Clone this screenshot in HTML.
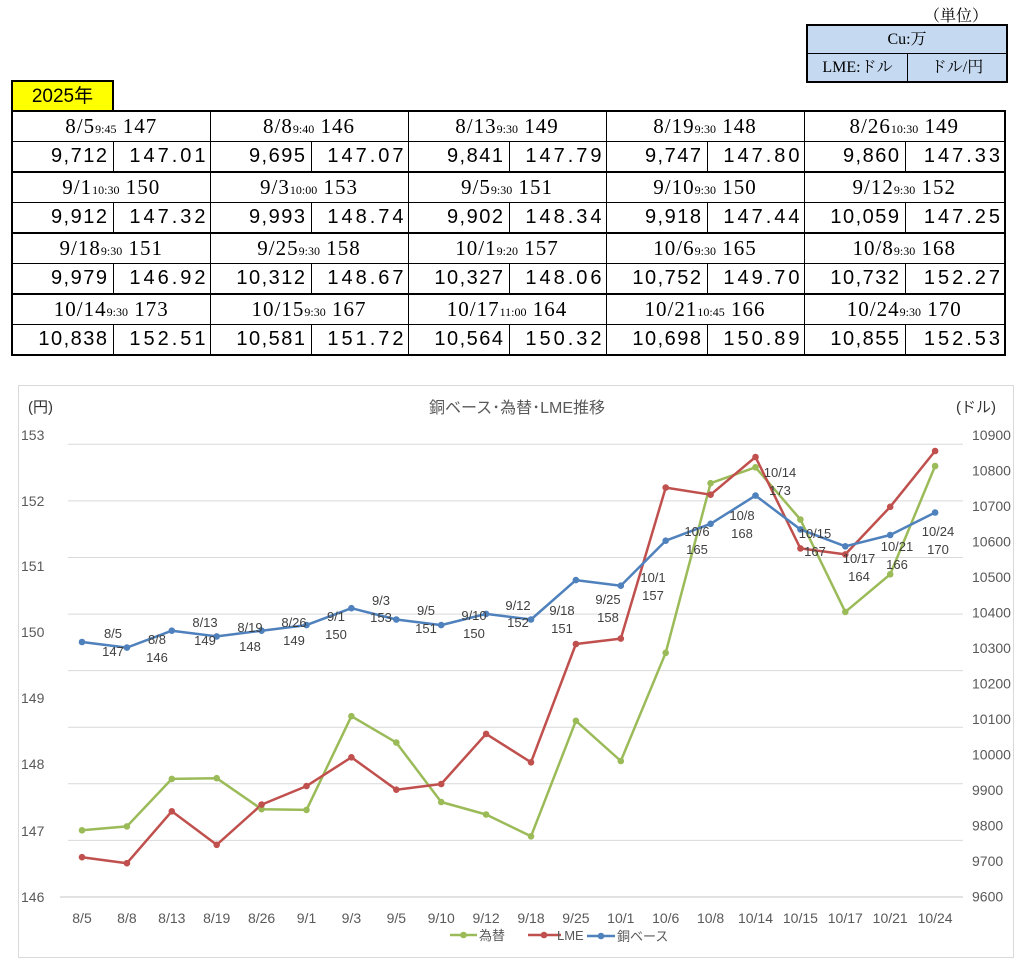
<!DOCTYPE html>
<html><head><meta charset="utf-8">
<style>
body{margin:0;background:#fff;width:1036px;height:974px;position:relative;overflow:hidden;font-family:"Liberation Sans","Noto Sans CJK JP",sans-serif}
.a{position:absolute}
table.m{position:absolute;left:11px;top:110px;border-collapse:collapse;width:993px;table-layout:fixed}
table.m td{border:1px solid #000;height:29px;padding:0;text-align:center;white-space:nowrap;overflow:hidden}
table.m tr.g td{border-top:2px solid #000}
table.m td.h{font-family:"Liberation Serif","Noto Serif CJK SC",serif;font-size:21px;letter-spacing:1px}
table.m td.h small{font-size:12px;letter-spacing:0}
table.m td.n{font-size:20px;letter-spacing:1.5px;text-align:right;padding-right:4px}
table.m td.r{font-size:20px;letter-spacing:3px;text-align:right;padding-right:1px}
</style></head><body>
<div class="a" style="left:924px;top:3px;font-size:16px;font-family:'Liberation Serif','Noto Serif CJK SC',serif">（単位）</div>
<div class="a" style="left:806px;top:24px;width:198px;height:55px;border:2px solid #000;background:#c5d9f1;font-family:'Liberation Serif','Noto Serif CJK SC',serif;font-size:16px">
<div style="height:27px;line-height:27px;text-align:center;border-bottom:1px solid #000">Cu:万</div>
<div style="display:flex;height:27px;line-height:27px"><div style="width:99px;text-align:center;border-right:1px solid #000">LME:ドル</div><div style="flex:1;text-align:center">ドル/円</div></div>
</div>
<div class="a" style="left:11px;top:80px;width:99px;height:28px;border:2px solid #000;border-bottom:none;background:#ff0;font-size:19px;line-height:30px;text-align:center">2025年</div>
<table class="m" style="border:2px solid #000">
<colgroup><col style="width:101px"><col style="width:97px"><col style="width:101px"><col style="width:97px"><col style="width:101px"><col style="width:97px"><col style="width:101px"><col style="width:97px"><col style="width:101px"><col style="width:100px"></colgroup>
<tr><td class="h" colspan="2">8/5<small>9:45</small> 147</td><td class="h" colspan="2">8/8<small>9:40</small> 146</td><td class="h" colspan="2">8/13<small>9:30</small> 149</td><td class="h" colspan="2">8/19<small>9:30</small> 148</td><td class="h" colspan="2">8/26<small>10:30</small> 149</td></tr>
<tr><td class="n">9,712</td><td class="r">147.01</td><td class="n">9,695</td><td class="r">147.07</td><td class="n">9,841</td><td class="r">147.79</td><td class="n">9,747</td><td class="r">147.80</td><td class="n">9,860</td><td class="r">147.33</td></tr>
<tr class="g"><td class="h" colspan="2">9/1<small>10:30</small> 150</td><td class="h" colspan="2">9/3<small>10:00</small> 153</td><td class="h" colspan="2">9/5<small>9:30</small> 151</td><td class="h" colspan="2">9/10<small>9:30</small> 150</td><td class="h" colspan="2">9/12<small>9:30</small> 152</td></tr>
<tr><td class="n">9,912</td><td class="r">147.32</td><td class="n">9,993</td><td class="r">148.74</td><td class="n">9,902</td><td class="r">148.34</td><td class="n">9,918</td><td class="r">147.44</td><td class="n">10,059</td><td class="r">147.25</td></tr>
<tr class="g"><td class="h" colspan="2">9/18<small>9:30</small> 151</td><td class="h" colspan="2">9/25<small>9:30</small> 158</td><td class="h" colspan="2">10/1<small>9:20</small> 157</td><td class="h" colspan="2">10/6<small>9:30</small> 165</td><td class="h" colspan="2">10/8<small>9:30</small> 168</td></tr>
<tr><td class="n">9,979</td><td class="r">146.92</td><td class="n">10,312</td><td class="r">148.67</td><td class="n">10,327</td><td class="r">148.06</td><td class="n">10,752</td><td class="r">149.70</td><td class="n">10,732</td><td class="r">152.27</td></tr>
<tr class="g"><td class="h" colspan="2">10/14<small>9:30</small> 173</td><td class="h" colspan="2">10/15<small>9:30</small> 167</td><td class="h" colspan="2">10/17<small>11:00</small> 164</td><td class="h" colspan="2">10/21<small>10:45</small> 166</td><td class="h" colspan="2">10/24<small>9:30</small> 170</td></tr>
<tr><td class="n">10,838</td><td class="r">152.51</td><td class="n">10,581</td><td class="r">151.72</td><td class="n">10,564</td><td class="r">150.32</td><td class="n">10,698</td><td class="r">150.89</td><td class="n">10,855</td><td class="r">152.53</td></tr>
</table>

<svg class="a" style="left:0;top:0" width="1036" height="974" font-family="Liberation Sans, Noto Sans CJK JP, sans-serif">
<rect x="18.5" y="385.5" width="995" height="572" fill="none" stroke="#d9d9d9"/>
<g stroke="#d9d9d9" stroke-width="1">
<line x1="68" x2="963" y1="444.3" y2="444.3"/><line x1="68" x2="963" y1="500.9" y2="500.9"/><line x1="68" x2="963" y1="557.5" y2="557.5"/><line x1="68" x2="963" y1="614.1" y2="614.1"/><line x1="68" x2="963" y1="670.6" y2="670.6"/><line x1="68" x2="963" y1="727.2" y2="727.2"/><line x1="68" x2="963" y1="783.8" y2="783.8"/><line x1="68" x2="963" y1="840.4" y2="840.4"/><line x1="60" x2="963" y1="897" y2="897" stroke-width="1.5"/>
</g>
<text x="517" y="413" text-anchor="middle" font-size="16" fill="#595959">銅ベース･為替･LME推移</text>
<text x="28" y="412" font-size="15" fill="#333">(円)</text>
<text x="956" y="412" font-size="15" fill="#333">(ドル)</text>
<g font-size="14" fill="#595959">
<text x="21" y="440">153</text><text x="21" y="506">152</text><text x="21" y="571">151</text><text x="21" y="637">150</text><text x="21" y="703">149</text><text x="21" y="769">148</text><text x="21" y="836">147</text><text x="21" y="902">146</text>
<text x="972" y="440">10900</text><text x="972" y="475.5">10800</text><text x="972" y="511">10700</text><text x="972" y="546.5">10600</text><text x="972" y="582">10500</text><text x="972" y="617.5">10400</text><text x="972" y="653">10300</text><text x="972" y="688.5">10200</text><text x="972" y="724">10100</text><text x="972" y="759.5">10000</text><text x="972" y="795">9900</text><text x="972" y="830.5">9800</text><text x="972" y="866">9700</text><text x="972" y="901.5">9600</text>
</g>
<g font-size="14" fill="#595959" text-anchor="middle">
<text x="82" y="923">8/5</text><text x="126.9" y="923">8/8</text><text x="171.8" y="923">8/13</text><text x="216.7" y="923">8/19</text><text x="261.6" y="923">8/26</text><text x="306.5" y="923">9/1</text><text x="351.4" y="923">9/3</text><text x="396.3" y="923">9/5</text><text x="441.2" y="923">9/10</text><text x="486.1" y="923">9/12</text><text x="531" y="923">9/18</text><text x="575.9" y="923">9/25</text><text x="620.8" y="923">10/1</text><text x="665.7" y="923">10/6</text><text x="710.6" y="923">10/8</text><text x="755.5" y="923">10/14</text><text x="800.4" y="923">10/15</text><text x="845.3" y="923">10/17</text><text x="890.2" y="923">10/21</text><text x="935.1" y="923">10/24</text>
</g>
<g fill="none" stroke-width="2.5" stroke-linejoin="round">
<polyline stroke="#9bbb59" points="82,830.3 126.9,826.4 171.8,778.9 216.7,778.2 261.6,809.2 306.5,809.9 351.4,716.2 396.3,742.6 441.2,802 486.1,814.5 531,836.3 575.9,720.8 620.8,761 665.7,652.8 710.6,483.2 755.5,467.3 800.4,519.5 845.3,611.9 890.2,574.3 935.1,466"/>
<polyline stroke="#c0504d" points="82,857.2 126.9,863.2 171.8,811.3 216.7,844.8 261.6,804.6 306.5,786.1 351.4,757.3 396.3,789.7 441.2,784 486.1,733.9 531,762.3 575.9,644 620.8,638.6 665.7,487.6 710.6,494.7 755.5,457 800.4,548.4 845.3,554.4 890.2,506.8 935.1,451"/>
<polyline stroke="#4f81bd" points="82,642 126.9,647.6 171.8,630.7 216.7,636.4 261.6,630.7 306.5,625.1 351.4,608.2 396.3,619.5 441.2,625.1 486.1,613.9 531,619.5 575.9,580.1 620.8,585.7 665.7,540.7 710.6,523.8 755.5,495.6 800.4,529.4 845.3,546.3 890.2,535 935.1,512.5"/>
</g>
<g fill="#9bbb59"><circle cx="82" cy="830.3" r="3.3"/><circle cx="126.9" cy="826.4" r="3.3"/><circle cx="171.8" cy="778.9" r="3.3"/><circle cx="216.7" cy="778.2" r="3.3"/><circle cx="261.6" cy="809.2" r="3.3"/><circle cx="306.5" cy="809.9" r="3.3"/><circle cx="351.4" cy="716.2" r="3.3"/><circle cx="396.3" cy="742.6" r="3.3"/><circle cx="441.2" cy="802" r="3.3"/><circle cx="486.1" cy="814.5" r="3.3"/><circle cx="531" cy="836.3" r="3.3"/><circle cx="575.9" cy="720.8" r="3.3"/><circle cx="620.8" cy="761" r="3.3"/><circle cx="665.7" cy="652.8" r="3.3"/><circle cx="710.6" cy="483.2" r="3.3"/><circle cx="755.5" cy="467.3" r="3.3"/><circle cx="800.4" cy="519.5" r="3.3"/><circle cx="845.3" cy="611.9" r="3.3"/><circle cx="890.2" cy="574.3" r="3.3"/><circle cx="935.1" cy="466" r="3.3"/></g>
<g fill="#c0504d"><circle cx="82" cy="857.2" r="3.3"/><circle cx="126.9" cy="863.2" r="3.3"/><circle cx="171.8" cy="811.3" r="3.3"/><circle cx="216.7" cy="844.8" r="3.3"/><circle cx="261.6" cy="804.6" r="3.3"/><circle cx="306.5" cy="786.1" r="3.3"/><circle cx="351.4" cy="757.3" r="3.3"/><circle cx="396.3" cy="789.7" r="3.3"/><circle cx="441.2" cy="784" r="3.3"/><circle cx="486.1" cy="733.9" r="3.3"/><circle cx="531" cy="762.3" r="3.3"/><circle cx="575.9" cy="644" r="3.3"/><circle cx="620.8" cy="638.6" r="3.3"/><circle cx="665.7" cy="487.6" r="3.3"/><circle cx="710.6" cy="494.7" r="3.3"/><circle cx="755.5" cy="457" r="3.3"/><circle cx="800.4" cy="548.4" r="3.3"/><circle cx="845.3" cy="554.4" r="3.3"/><circle cx="890.2" cy="506.8" r="3.3"/><circle cx="935.1" cy="451" r="3.3"/></g>
<g fill="#4f81bd"><circle cx="82" cy="642" r="3.3"/><circle cx="126.9" cy="647.6" r="3.3"/><circle cx="171.8" cy="630.7" r="3.3"/><circle cx="216.7" cy="636.4" r="3.3"/><circle cx="261.6" cy="630.7" r="3.3"/><circle cx="306.5" cy="625.1" r="3.3"/><circle cx="351.4" cy="608.2" r="3.3"/><circle cx="396.3" cy="619.5" r="3.3"/><circle cx="441.2" cy="625.1" r="3.3"/><circle cx="486.1" cy="613.9" r="3.3"/><circle cx="531" cy="619.5" r="3.3"/><circle cx="575.9" cy="580.1" r="3.3"/><circle cx="620.8" cy="585.7" r="3.3"/><circle cx="665.7" cy="540.7" r="3.3"/><circle cx="710.6" cy="523.8" r="3.3"/><circle cx="755.5" cy="495.6" r="3.3"/><circle cx="800.4" cy="529.4" r="3.3"/><circle cx="845.3" cy="546.3" r="3.3"/><circle cx="890.2" cy="535" r="3.3"/><circle cx="935.1" cy="512.5" r="3.3"/></g>
<g font-size="13" fill="#404040" text-anchor="middle">
<text x="113" y="638">8/5</text><text x="113" y="656">147</text>
<text x="157" y="644">8/8</text><text x="157" y="662">146</text>
<text x="205" y="627">8/13</text><text x="205" y="645">149</text>
<text x="250" y="632">8/19</text><text x="250" y="651">148</text>
<text x="294" y="627">8/26</text><text x="294" y="645">149</text>
<text x="336" y="621">9/1</text><text x="336" y="639">150</text>
<text x="381" y="605">9/3</text><text x="381" y="622">153</text>
<text x="426" y="615">9/5</text><text x="426" y="633">151</text>
<text x="474" y="620">9/10</text><text x="474" y="638">150</text>
<text x="518" y="610">9/12</text><text x="518" y="627">152</text>
<text x="562" y="615">9/18</text><text x="562" y="633">151</text>
<text x="608" y="604">9/25</text><text x="608" y="622">158</text>
<text x="653" y="582">10/1</text><text x="653" y="600">157</text>
<text x="697" y="536">10/6</text><text x="697" y="554">165</text>
<text x="742" y="520">10/8</text><text x="742" y="538">168</text>
<text x="780" y="477">10/14</text><text x="780" y="495">173</text>
<text x="815" y="538">10/15</text><text x="815" y="556">167</text>
<text x="859" y="563">10/17</text><text x="859" y="581">164</text>
<text x="897" y="551">10/21</text><text x="897" y="569">166</text>
<text x="938" y="536">10/24</text><text x="938" y="554">170</text>
</g>
<g font-size="13" fill="#595959">
<line x1="450" x2="477" y1="935" y2="935" stroke="#9bbb59" stroke-width="2.5"/><circle cx="463.5" cy="935" r="3.3" fill="#9bbb59"/><text x="479" y="940">為替</text>
<line x1="528" x2="561" y1="935" y2="935" stroke="#c0504d" stroke-width="2.5"/><circle cx="544" cy="935" r="3.3" fill="#c0504d"/><text x="557" y="940">LME</text>
<line x1="587" x2="615" y1="936" y2="936" stroke="#4f81bd" stroke-width="2.5"/><circle cx="601" cy="936" r="3.3" fill="#4f81bd"/><text x="617" y="941">銅ベース</text>
</g>
</svg>
</body></html>
